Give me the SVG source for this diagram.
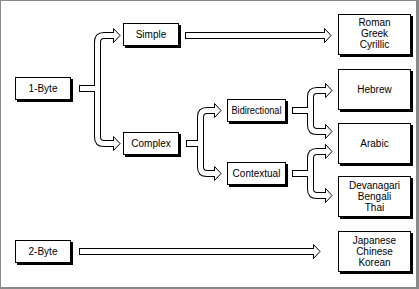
<svg xmlns="http://www.w3.org/2000/svg" width="419" height="289" viewBox="0 0 419 289">
<style>
.sh{fill:#000}
.bx{fill:#fff;stroke:#000;stroke-width:1}
.o{fill:none;stroke:#000;stroke-width:7}
.i{fill:none;stroke:#fff;stroke-width:5}
.h{fill:#fff;stroke:#000;stroke-width:1}
text{font-family:"Liberation Sans",Arial,sans-serif;font-size:10px;fill:#000;text-anchor:middle}
</style>
<rect width="419" height="289" fill="#888"/>
<rect x="1" y="1" width="415" height="286" fill="#fff"/>
<g id="connectors">
<g class="o">
<path d="M185,35.5H325"/>
<path d="M79,88.5H98"/>
<path d="M114,35.5H104Q97.5,35.5 97.5,42V137Q97.5,143.5 104,143.5H114"/>
<path d="M186,143.5H201"/>
<path d="M215,110.5H207Q200.5,110.5 200.5,117V167Q200.5,173.5 207,173.5H215"/>
<path d="M292,110.5H311"/>
<path d="M326,90.5H317Q310.5,90.5 310.5,97V125Q310.5,131.5 317,131.5H326"/>
<path d="M292,173.5H311"/>
<path d="M326,151.5H317Q310.5,151.5 310.5,158V189Q310.5,195.5 317,195.5H326"/>
<path d="M79,251.5H314"/>
</g>
<g class="i">
<path d="M186,35.5H325"/>
<path d="M80,88.5H98"/>
<path d="M114,35.5H104Q97.5,35.5 97.5,42V137Q97.5,143.5 104,143.5H114"/>
<path d="M187,143.5H201"/>
<path d="M215,110.5H207Q200.5,110.5 200.5,117V167Q200.5,173.5 207,173.5H215"/>
<path d="M293,110.5H311"/>
<path d="M326,90.5H317Q310.5,90.5 310.5,97V125Q310.5,131.5 317,131.5H326"/>
<path d="M293,173.5H311"/>
<path d="M326,151.5H317Q310.5,151.5 310.5,158V189Q310.5,195.5 317,195.5H326"/>
<path d="M80,251.5H314"/>
</g>
<g class="h">
<path d="M324.5,33V28.5L331,35.5L324.5,42.5V38"/>
<path d="M113.5,33V28.5L120,35.5L113.5,42.5V38"/>
<path d="M113.5,141V136.5L120,143.5L113.5,150.5V146"/>
<path d="M214.5,108V103.5L221,110.5L214.5,117.5V113"/>
<path d="M214.5,171V166.5L221,173.5L214.5,180.5V176"/>
<path d="M325.5,88V83.5L332,90.5L325.5,97.5V93"/>
<path d="M325.5,129V124.5L332,131.5L325.5,138.5V134"/>
<path d="M325.5,149V144.5L332,151.5L325.5,158.5V154"/>
<path d="M325.5,193V188.5L332,195.5L325.5,202.5V198"/>
<path d="M313.5,249V244.5L320,251.5L313.5,258.5V254"/>
</g>
</g>
<g id="n-1byte"><rect class="sh" x="17" y="79" width="56" height="23"/><rect class="bx" x="15.5" y="77.5" width="55" height="22"/><text x="43" y="92">1-Byte</text></g>
<g id="n-2byte"><rect class="sh" x="17" y="242" width="56" height="23"/><rect class="bx" x="15.5" y="240.5" width="55" height="22"/><text x="43" y="255">2-Byte</text></g>
<g id="n-simple"><rect class="sh" x="125" y="25" width="56" height="23"/><rect class="bx" x="123.5" y="23.5" width="55" height="22"/><text x="151" y="38">Simple</text></g>
<g id="n-complex"><rect class="sh" x="125" y="134" width="56" height="23"/><rect class="bx" x="123.5" y="132.5" width="55" height="22"/><text x="151" y="147">Complex</text></g>
<g id="n-bidi"><rect class="sh" x="229" y="101" width="59" height="23"/><rect class="bx" x="227.5" y="99.5" width="58" height="22"/><text x="256.5" y="114" textLength="50" lengthAdjust="spacingAndGlyphs">Bidirectional</text></g>
<g id="n-context"><rect class="sh" x="229" y="164" width="59" height="23"/><rect class="bx" x="227.5" y="162.5" width="58" height="22"/><text x="256.5" y="177">Contextual</text></g>
<g id="n-roman"><rect class="sh" x="340" y="16" width="73" height="41"/><rect class="bx" x="338.5" y="14.5" width="72" height="40"/><text x="374.5" y="26">Roman</text><text x="374.5" y="37">Greek</text><text x="374.5" y="48">Cyrillic</text></g>
<g id="n-hebrew"><rect class="sh" x="340" y="71" width="73" height="41"/><rect class="bx" x="338.5" y="69.5" width="72" height="40"/><text x="374.5" y="93">Hebrew</text></g>
<g id="n-arabic"><rect class="sh" x="340" y="125" width="73" height="41"/><rect class="bx" x="338.5" y="123.5" width="72" height="40"/><text x="374.5" y="147">Arabic</text></g>
<g id="n-devanagari"><rect class="sh" x="340" y="178" width="73" height="41"/><rect class="bx" x="338.5" y="176.5" width="72" height="40"/><text x="374.5" y="189">Devanagari</text><text x="374.5" y="200">Bengali</text><text x="374.5" y="211">Thai</text></g>
<g id="n-cjk"><rect class="sh" x="340" y="233" width="73" height="41"/><rect class="bx" x="338.5" y="231.5" width="72" height="40"/><text x="374.5" y="244">Japanese</text><text x="374.5" y="255">Chinese</text><text x="374.5" y="266">Korean</text></g>
</svg>
